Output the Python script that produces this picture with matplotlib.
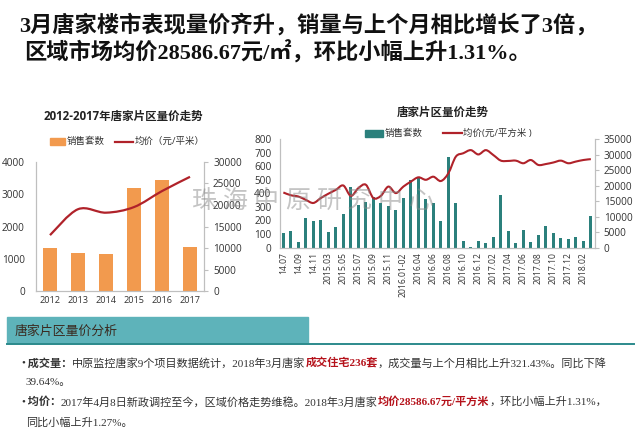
import matplotlib
matplotlib.use("Agg")
import matplotlib.pyplot as plt
from matplotlib.path import Path
from matplotlib.patches import PathPatch, Rectangle
import numpy as np

plt.rcParams["font.family"] = ["Open Sans", "Noto Sans CJK SC", "DejaVu Sans"]
SERIF_MIX = ["Liberation Serif", "Noto Sans CJK SC", "DejaVu Sans"]

# ── data ──────────────────────────────────────────────────────────
years = ["2012", "2013", "2014", "2015", "2016", "2017"]
year_sales = [1330, 1170, 1150, 3200, 3430, 1370]
year_price = [13000, 19000, 18200, 19500, 23200, 26500]

months = ["14.07", "14.08", "14.09", "14.10", "14.11", "14.12",
          "2015.03", "2015.04", "2015.05", "2015.06", "2015.07", "2015.08",
          "2015.09", "2015.10", "2015.11", "2015.12", "2016.01-02", "2016.03",
          "2016.04", "2016.05", "2016.06", "2016.07", "2016.08", "2016.09",
          "2016.10", "2016.11", "2016.12", "2017.01", "2017.02", "2017.03",
          "2017.04", "2017.05", "2017.06", "2017.07", "2017.08", "2017.09",
          "2017.10", "2017.11", "2017.12", "2018.01", "2018.02", "2018.03"]
month_sales = [108, 125, 40, 215, 195, 205, 115, 150, 245, 450, 315, 340,
               370, 330, 305, 280, 365, 500, 520, 355, 330, 195, 670, 330,
               45, 5, 50, 35, 75, 385, 120, 35, 130, 38, 95, 160,
               105, 70, 60, 75, 50, 236]
month_price = [17800, 16900, 16500, 15400, 14400, 16000, 17400, 18650, 20050,
               16700, 19200, 20300, 16000, 16700, 19700, 17600, 19700, 21300,
               22700, 21900, 22900, 21500, 24000, 29400, 30500, 31500, 30100,
               31500, 29900, 28100, 28000, 28100, 27250, 28300, 26700, 27000,
               27500, 28100, 27250, 27800, 28300, 28586.67]

ORANGE = "#F29A4E"
TEAL = "#2B807C"
RED = "#B0222A"
GRID_GREY = "#BFBFBF"
W, H = 640, 430


def fx(x):
    return x / W


def fy(y):
    return 1 - y / H


def smooth_line(ax, xs, ys, **kw):
    """Excel-style smoothed line (Catmull-Rom as cubic Bezier)."""
    pts = np.column_stack([xs, ys]).astype(float)
    n = len(pts)
    verts = [pts[0]]
    codes = [Path.MOVETO]
    for i in range(n - 1):
        p0 = pts[max(i - 1, 0)]
        p1 = pts[i]
        p2 = pts[i + 1]
        p3 = pts[min(i + 2, n - 1)]
        c1 = p1 + (p2 - p0) / 6
        c2 = p2 - (p3 - p1) / 6
        verts += [c1, c2, p2]
        codes += [Path.CURVE4] * 3
    ax.add_patch(PathPatch(Path(verts, codes), facecolor="none", **kw))


def style_axes(ax, ax2):
    for a in (ax, ax2):
        a.spines["top"].set_visible(False)
        for s in ("left", "right", "bottom"):
            a.spines[s].set_color(GRID_GREY)
            a.spines[s].set_linewidth(0.8)
    ax.tick_params(axis="x", length=0, colors="#333333")
    ax.tick_params(axis="y", length=0, colors="#333333")
    ax2.tick_params(axis="y", length=3, width=0.8, color=GRID_GREY, colors="#333333")


fig = plt.figure(figsize=(6.4, 4.3), dpi=100)

# ── headline ──────────────────────────────────────────────────────
fig.text(fx(19), fy(25), "3月唐家楼市表现量价齐升，销量与上个月相比增长了3倍，",
         fontsize=16, fontweight="bold", color="#111111", va="center",
         family=SERIF_MIX)
fig.text(fx(24), fy(53), "区域市场均价28586.67元/㎡，环比小幅上升1.31%。",
         fontsize=16, fontweight="bold", color="#111111", va="center",
         family=SERIF_MIX)

# ── left chart: yearly ────────────────────────────────────────────
ax = fig.add_axes([fx(36), fy(291.3), fx(168), (291.3 - 161.7) / H])
ax2 = ax.twinx()
x = np.arange(len(years))
ax.bar(x, year_sales, width=0.47, color=ORANGE, zorder=2)
ax.set_xlim(-0.5, len(years) - 0.5)
ax.set_ylim(0, 4000)
ax.set_yticks([0, 1000, 2000, 3000, 4000])
ax.set_xticks(x)
ax.set_xticklabels(years, fontsize=6.6)
ax.tick_params(axis="y", labelsize=7.2, pad=8)
ax2.set_ylim(0, 30000)
ax2.set_yticks(range(0, 30001, 5000))
ax2.tick_params(axis="y", labelsize=7.2)
smooth_line(ax2, x, year_price, edgecolor=RED, lw=1.6, zorder=3)
style_axes(ax, ax2)

fig.text(fx(123), fy(116.7), "2012-2017年唐家片区量价走势", fontsize=8.3,
         fontweight="bold", ha="center", va="center", color="#222222")
fig.patches.append(Rectangle((fx(50), fy(145)), fx(15), 6.5 / H,
                             transform=fig.transFigure, color=ORANGE))
fig.text(fx(67), fy(141.7), "销售套数", fontsize=6.8, va="center", color="#333333")
fig.lines.append(plt.Line2D([fx(115), fx(133)], [fy(141.7), fy(141.7)],
                            transform=fig.transFigure, color=RED, lw=1.6))
fig.text(fx(135), fy(141.7), "均价（元/平米）", fontsize=6.8, va="center", color="#333333")

# ── right chart: monthly ──────────────────────────────────────────
bx = fig.add_axes([fx(279.6), fy(247.5), fx(315), (247.5 - 139.3) / H])
bx2 = bx.twinx()
m = np.arange(len(months))
bx.bar(m, month_sales, width=0.42, color=TEAL, zorder=2)
bx.set_xlim(-0.5, len(months) - 0.5)
bx.set_ylim(0, 800)
bx.set_yticks(range(0, 801, 100))
bx.set_xticks(m[::2])
bx.set_xticklabels(months[::2], rotation=90, fontsize=6.2)
bx.tick_params(axis="y", labelsize=7.2, pad=6)
bx2.set_ylim(0, 35000)
bx2.set_yticks(range(0, 35001, 5000))
bx2.tick_params(axis="y", labelsize=7.2)
smooth_line(bx2, m, month_price, edgecolor=RED, lw=1.5, zorder=3)
style_axes(bx, bx2)

fig.text(fx(443), fy(112.7), "唐家片区量价走势", fontsize=8.3,
         fontweight="bold", ha="center", va="center", color="#222222")
fig.patches.append(Rectangle((fx(365), fy(136.5)), fx(18), 6.5 / H,
                             transform=fig.transFigure, color=TEAL))
fig.text(fx(385), fy(133.3), "销售套数", fontsize=6.8, va="center", color="#333333")
fig.lines.append(plt.Line2D([fx(443), fx(462)], [fy(133.3), fy(133.3)],
                            transform=fig.transFigure, color=RED, lw=1.6))
fig.text(fx(463), fy(133.3), "均价(元/平方米 )", fontsize=6.8, va="center", color="#333333")

# ── watermark ─────────────────────────────────────────────────────
for i, ch in enumerate("珠海中原研究中心"):
    fig.text(fx(192 + i * 31), fy(201), ch, fontsize=18, color="#8a8a8a",
             alpha=0.5, va="center", family=["Noto Sans CJK SC"], zorder=10)

# ── analysis section ──────────────────────────────────────────────
fig.patches.append(Rectangle((fx(7), fy(343)), fx(301), (343 - 316.7) / H,
                             transform=fig.transFigure, color="#5EB3BA"))
fig.lines.append(plt.Line2D([fx(7), fx(634)], [fy(343.5), fy(343.5)],
                            transform=fig.transFigure, color="#2C8A8C", lw=1.4))
fig.text(fx(15), fy(331.5), "唐家片区量价分析", fontsize=9.3, va="center",
         color="#3a2a20")

renderer = fig.canvas.get_renderer()


def rich_line(x0, y0, parts):
    xpos = fx(x0)
    for s, bold, colour in parts:
        t = fig.text(xpos, fy(y0), s, fontsize=8, va="center", color=colour,
                     fontweight="bold" if bold else "normal", family=SERIF_MIX)
        bb = t.get_window_extent(renderer)
        xpos = bb.x1 / fig.bbox.width


BODY = "#333333"
DARK_RED = "#B5121B"
rich_line(21, 363, [("•", False, BODY), (" 成交量：", True, BODY),
                    ("中原监控唐家9个项目数据统计，2018年3月唐家", False, BODY),
                    ("成交住宅236套", True, DARK_RED),
                    ("，成交量与上个月相比上升321.43%。同比下降", False, BODY)])
rich_line(26, 382.5, [("39.64%。", False, BODY)])
rich_line(21, 402, [("•", False, BODY), (" 均价：", True, BODY),
                    ("2017年4月8日新政调控至今，区域价格走势维稳。2018年3月唐家", False, BODY),
                    ("均价28586.67元/平方米", True, DARK_RED),
                    ("，环比小幅上升1.31%，", False, BODY)])
rich_line(26, 423, [("同比小幅上升1.27%。", False, BODY)])

fig.savefig("out.png", dpi=100)
